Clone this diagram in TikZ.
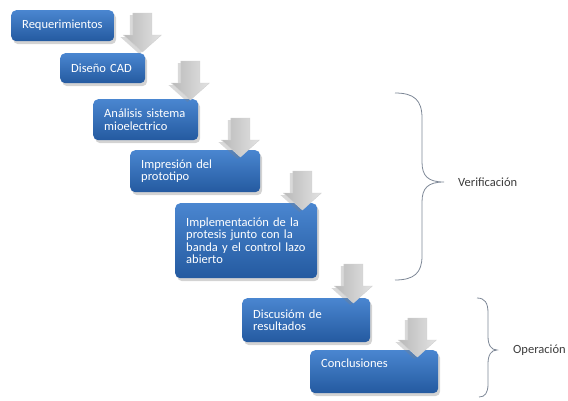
\documentclass[tikz,border=0pt]{standalone}
\usepackage{fontspec}
\setmainfont{Carlito}
\usetikzlibrary{shadows,calc}
\definecolor{boxtop}{RGB}{74,134,208}
\definecolor{boxbot}{RGB}{36,90,160}
\definecolor{bracecol}{RGB}{125,135,150}
\definecolor{labelcol}{RGB}{60,60,60}
\tikzset{
  stagebox/.style={anchor=north west, rounded corners=5pt, top color=boxtop, bottom color=boxbot,
    draw=none, text=white, align=left, inner xsep=11pt, inner ysep=0pt,
    font=\fontsize{12.5}{12.5}\selectfont,
    drop shadow={opacity=0.35, shadow xshift=2pt, shadow yshift=-3pt}},
  downarrow/.pic={
    \path[left color=gray!55, right color=gray!22, draw=gray!35, line width=0.4pt,
      drop shadow={opacity=0.3, shadow xshift=-3pt, shadow yshift=-2pt}]
      (0,0) -- (-19,-17) -- (-9.5,-17) -- (-9.5,-39) -- (9.5,-39) -- (9.5,-17) -- (19,-17) -- cycle;
  },
  bracepath/.style={draw=bracecol, line width=0.8pt},
  sidelabel/.style={anchor=west, text=labelcol, inner sep=0pt, font=\fontsize{12.5}{12.5}\selectfont}
}
\begin{document}
\begin{tikzpicture}[x=1pt,y=-1pt]
\useasboundingbox (0,0) rectangle (568,400);
\node[stagebox, text width=81pt, minimum height=31pt] (b1) at (11,10) {Requerimientos};
\node[stagebox, text width=63pt, minimum height=30pt] (b2) at (60,53) {Diseño CAD};
\node[stagebox, text width=83pt, minimum height=41pt] (b3) at (93,99) {Análisis sistema\\mioelectrico};
\node[stagebox, text width=108pt, minimum height=42pt] (b4) at (130,150) {Impresión del\\prototipo};
\node[stagebox, text width=120pt, minimum height=75pt] (b5) at (175,203) {Implementación de la\\protesis junto con la\\banda y el control lazo\\abierto};
\node[stagebox, text width=106pt, minimum height=44pt] (b6) at (242,298) {Discusióm de\\resultados};
\node[stagebox, text width=106pt, minimum height=43pt, text depth=17pt] (b7) at (310,350) {Conclusiones};
\coordinate (t1) at ($(b2.north east)+(-3,-1)$);
\coordinate (t2) at ($(b3.north east)+(-8,1)$);
\coordinate (t3) at ($(b4.north east)+(-20,7)$);
\coordinate (t4) at ($(b5.north east)+(-15,7)$);
\coordinate (t5) at ($(b6.north east)+(-17,5)$);
\coordinate (t6) at ($(b7.north east)+(-21,7)$);
\foreach \t in {t1,t2,t3,t4,t5,t6} \pic at (\t) {downarrow};
\node[sidelabel] (ver) at (458,182) {Verificación};
\node[sidelabel] (ope) at (513,350) {Operación};
\coordinate (v1) at (395,93);
\coordinate (v2) at (395,280);
\coordinate (vt) at (444,182);
\coordinate (o1) at (477,298);
\coordinate (o2) at (479,397);
\coordinate (ot) at (497,350);
\draw[bracepath] (v1) .. controls (414,93) and (422,100) .. (422,118) -- (422,162)
  .. controls (422,176) and (428,182) .. (vt)
  .. controls (428,182) and (422,188) .. (422,202) -- (422,256)
  .. controls (422,273) and (414,280) .. (v2);
\draw[bracepath] (o1) .. controls (485,298) and (488,303) .. (488,313) -- (488,336)
  .. controls (488,345) and (491,350) .. (ot)
  .. controls (491,350) and (488,355) .. (488,364) -- (488,384)
  .. controls (488,393) and (485,397) .. (o2);
\end{tikzpicture}
\end{document}
